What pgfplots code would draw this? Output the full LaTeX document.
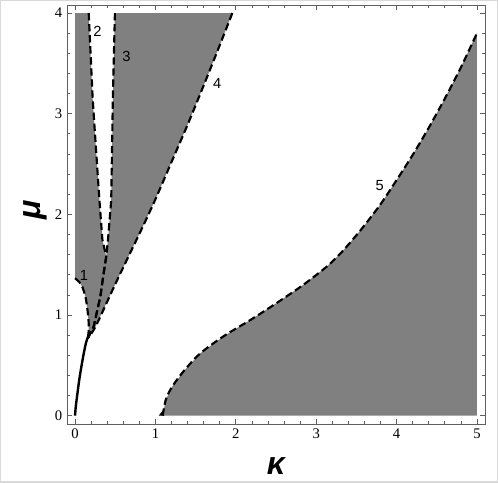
\documentclass[border=0pt]{standalone}
\usepackage{fontspec}
\setmainfont{Liberation Serif}
\newfontfamily\labelfont{Liberation Sans}
\usepackage{pgfplots}
\pgfplotsset{compat=1.18}
\definecolor{regiongray}{RGB}{128,128,128}
\definecolor{framegray}{RGB}{95,95,95}
\tikzset{curve/.style={black, line width=1.6pt, dash pattern=on 5.5pt off 2.8pt}}

\begin{document}
\begin{tikzpicture}
\begin{axis}[
    scale only axis,
    width=313.5pt, height=314.25pt,
    xmin=-0.1, xmax=5.1,
    ymin=-0.083, ymax=4.08,
    xtick={0,1,2,3,4,5},
    ytick={0,1,2,3,4},
    minor tick num=4,
    tick align=inside,
    major tick length=3.5pt,
    minor tick length=2pt,
    axis line style={framegray, line width=0.6pt},
    every tick/.style={framegray, line width=0.5pt},
    tick label style={font=\fontsize{11}{13}\selectfont},
    /pgf/number format/assume math mode=true,
    xlabel={\fontsize{24}{24}\selectfont\labelfont\bfseries\itshape κ},
    ylabel={\fontsize{24}{24}\selectfont\labelfont\bfseries\itshape μ},
    xlabel style={at={(axis description cs:0.5,-0.1)}, anchor=center},
    ylabel style={at={(axis description cs:-0.0765,0.51)}, anchor=center},
]
% shaded regions
\addplot[fill=regiongray, draw=none] coordinates {
    (0,1.365) (0,4) (0.17,4) (0.22,3.14) (0.30,2.18) (0.34,1.75) (0.388,1.58)
    (0.41,1.75) (0.45,2.14) (0.47,3.14) (0.496,4) (1.957,4)
    (1.8,3.68) (1.6,3.28) (1.4,2.89) (1.2,2.52) (1.0,2.15) (0.85,1.89)
    (0.7,1.64) (0.52,1.34) (0.41,1.15) (0.252,0.88) (0.16,0.77)
    (0.17,0.85) (0.17,0.92) (0.155,1.05) (0.13,1.18) (0.09,1.28) (0.05,1.33)
} --cycle;
\addplot[fill=regiongray, draw=none] coordinates {
    (1.09,0) (1.13,0.16) (1.21,0.29) (1.36,0.45) (1.56,0.62) (1.85,0.79)
    (2.18,0.95) (2.51,1.12) (2.84,1.30) (3.13,1.48) (3.3,1.61) (3.45,1.745)
    (3.6,1.89) (3.8,2.10) (4.0,2.34) (4.2,2.59) (4.4,2.86) (4.6,3.15) (4.8,3.46)
    (5,3.80) (5,0)
} --cycle;
\addplot[fill=black, draw=none] coordinates {(1.04,0) (1.11,0) (1.09,0.05)} --cycle;

% curve 1
\addplot[curve, smooth, tension=0.5] coordinates {
    (0,1.365) (0.05,1.33) (0.09,1.28) (0.13,1.18) (0.155,1.05) (0.17,0.92)
    (0.17,0.85) (0.16,0.77)
};
% curve 2
\addplot[curve] coordinates {
    (0.17,4) (0.22,3.14) (0.30,2.18) (0.34,1.75) (0.388,1.58)
    (0.356,1.415) (0.314,1.18) (0.232,0.885) (0.16,0.77)
};
% curve 3
\addplot[curve] coordinates {
    (0.496,4) (0.47,3.14) (0.45,2.14) (0.41,1.75) (0.388,1.58)
    (0.356,1.415) (0.314,1.18) (0.232,0.885) (0.16,0.77)
};
% curve 4
\addplot[curve, smooth, tension=0.5] coordinates {
    (1.957,4) (1.8,3.68) (1.6,3.28) (1.4,2.89) (1.2,2.52) (1.0,2.15) (0.85,1.89)
    (0.7,1.64) (0.52,1.34) (0.41,1.15) (0.252,0.88) (0.16,0.77)
};
% curve 5
\addplot[curve, smooth, tension=0.5] coordinates {
    (1.09,0) (1.13,0.16) (1.21,0.29) (1.36,0.45) (1.56,0.62) (1.85,0.79)
    (2.18,0.95) (2.51,1.12) (2.84,1.30) (3.13,1.48) (3.3,1.61) (3.45,1.745)
    (3.6,1.89) (3.8,2.10) (4.0,2.34) (4.2,2.59) (4.4,2.86) (4.6,3.15) (4.8,3.46)
    (5,3.80)
};
% merged branch near the origin
\addplot[black, line width=1.8pt, smooth, tension=0.5] coordinates {
    (0,0) (0.008,0.08) (0.025,0.19) (0.055,0.37) (0.095,0.56) (0.135,0.72) (0.17,0.80)
};

\node[font=\labelfont\fontsize{11}{13}\selectfont] at (axis cs:0.11,1.39) {1};
\node[font=\labelfont\fontsize{11}{13}\selectfont] at (axis cs:0.28,3.82) {2};
\node[font=\labelfont\fontsize{11}{13}\selectfont] at (axis cs:0.64,3.57) {3};
\node[font=\labelfont\fontsize{11}{13}\selectfont] at (axis cs:1.77,3.30) {4};
\node[font=\labelfont\fontsize{11}{13}\selectfont] at (axis cs:3.79,2.29) {5};
\end{axis}
\pgfresetboundingbox
\path[use as bounding box] ([shift={(-50.25pt,-43.5pt)}]current axis.south west)
    rectangle ([shift={(9.75pt,3.75pt)}]current axis.north east);
\draw[black!15, line width=1.5pt] ([shift={(-50.25pt,-43.5pt)}]current axis.south west)
    rectangle ([shift={(9.75pt,3.75pt)}]current axis.north east);
\end{tikzpicture}
\end{document}
